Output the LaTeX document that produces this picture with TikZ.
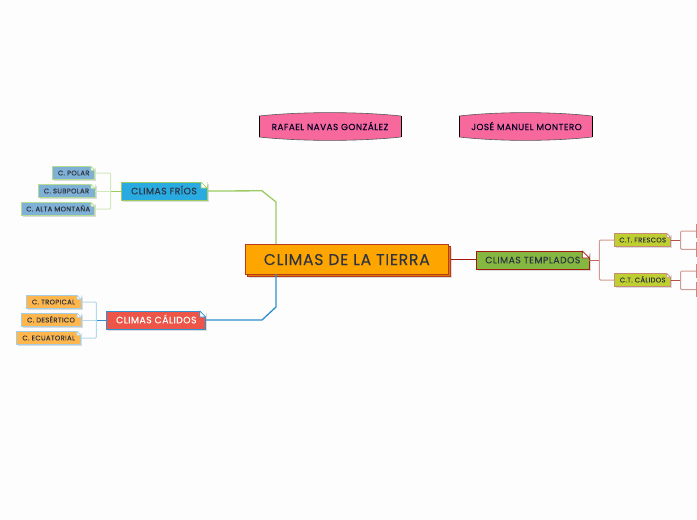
\documentclass[tikz,border=0pt]{standalone}
\usepackage{fontspec}
\setmainfont{Poppins}[LetterSpace=5,FakeBold=0.05]
\definecolor{bg}{HTML}{FDFDFD}
\definecolor{pk}{HTML}{F7699C}
\definecolor{cgreen}{HTML}{9CCB62}
\definecolor{lgreen}{HTML}{D2E9BC}
\definecolor{cblue}{HTML}{2F8FD0}
\definecolor{lblue}{HTML}{B4D9EF}
\definecolor{cred}{HTML}{A01A10}
\definecolor{mred}{HTML}{B55048}
\definecolor{lred}{HTML}{D49A92}
\definecolor{ored}{HTML}{B83A1B}
\definecolor{txt}{HTML}{2E3440}
\definecolor{fsky}{HTML}{29ABE2}
\definecolor{fcoral}{HTML}{EC5548}
\definecolor{fgrass}{HTML}{84B840}
\definecolor{forange}{HTML}{FFA500}
\definecolor{flime}{HTML}{BFCF2F}
\definecolor{fsteel}{HTML}{7FB0D5}
\definecolor{fpeach}{HTML}{FFB74D}
\definecolor{bchild}{HTML}{B5DC90}
\definecolor{bpeach}{HTML}{A5CCE5}
\definecolor{bct}{HTML}{C58A78}
\tikzset{x=1pt,y=-1pt,
 boxbase/.style={rectangle,inner sep=0pt,outer sep=0pt,text=txt},
 shadowed/.style={preaction={draw=none,fill=black,fill opacity=.13,transform canvas={shift={(1.5pt,-1.5pt)}}}},
 level0/.style={boxbase,shadowed,fill=forange,draw=ored,line width=1pt,minimum width=203pt,minimum height=30pt,font=\fontsize{15.6}{16}\selectfont,text height=12pt,text depth=0pt},
 level0back/.style={boxbase,shadowed,fill=forange!85!red,draw=ored,line width=1pt,minimum width=203pt,minimum height=30pt},
 level1/.style={boxbase,shadowed,line width=1pt,minimum height=18pt,font=\fontsize{9.3}{10}\selectfont,text height=6.6pt,text depth=0pt},
 level2/.style={boxbase,shadowed,line width=1pt,minimum height=13.5pt,font=\fontsize{6.8}{7}\selectfont,text height=4.8pt,text depth=0pt},
 frio/.style={level2,fill=fsteel,draw=bchild},
 calido/.style={level2,fill=fpeach,draw=bpeach},
 ct/.style={level2,fill=flime,draw=bct},
 leaf/.style={level2,fill=fpeach,draw=bct,minimum width=60pt},
 pinktext/.style={boxbase,font=\fontsize{8.9}{9}\selectfont,text=black!85!blue,text height=6.2pt,text depth=0pt},
 trunk/.style={line width=1.3pt,line join=round},
 twig/.style={line width=1pt,rounded corners=1pt},
}
% \foldcorner{node}{size}{border colour}
\newcommand{\foldcorner}[3]{%
 \fill[bg] ([xshift=-#2pt]#1.north east) -- ([xshift=.8pt,yshift=.8pt]#1.north east) -- ([yshift=-#2pt]#1.north east) -- cycle;
 \draw[fill=white,draw=#3,line width=.7pt,line join=round] ([xshift=-#2pt]#1.north east) -- ([yshift=-#2pt]#1.north east) -- ([xshift=-#2pt,yshift=-#2pt]#1.north east) -- cycle;
}
% \pinkshape{x0}{x1}{node name}{centre x}{text}
\newcommand{\pinkshape}[5]{%
 \path[fill=pk] (#1,116) .. controls ({#1+.3*(#2-#1)},111.5) and ({#1+.7*(#2-#1)},111.5) .. (#2,116) -- (#2,137) .. controls ({#1+.7*(#2-#1)},141.5) and ({#1+.3*(#2-#1)},141.5) .. (#1,137) -- cycle;
 \draw[black,line width=.7pt] (#1,116) -- (#1,137) (#2,116) -- (#2,137);
 \draw[black!65,line width=.6pt] (#1,116) .. controls ({#1+.3*(#2-#1)},111.5) and ({#1+.7*(#2-#1)},111.5) .. (#2,116);
 \draw[black!65,line width=.6pt] (#1,137) .. controls ({#1+.3*(#2-#1)},141.5) and ({#1+.7*(#2-#1)},141.5) .. (#2,137);
 \node[pinktext] (#3) at (#4,127) {#5};
}
\begin{document}
\begin{tikzpicture}
\useasboundingbox (0,0) rectangle (697,520);
\fill[bg] (0,0) rectangle (697,520);
\clip (0,0) rectangle (697,520);

\pinkshape{259}{401}{rafael}{330}{RAFAEL NAVAS GONZÁLEZ}
\pinkshape{459}{592}{jose}{526.5}{JOSÉ MANUEL MONTERO}

% boxes
\node[level0back] (mainback) at (349.3,261.5) {};
\node[level0] (main) at (346.8,259) {CLIMAS DE LA TIERRA};

\node[level1,fill=fsky,draw=cgreen,minimum width=86pt] (frios) at (164,191) {CLIMAS FRÍOS};
\node[level1,fill=fcoral,draw=cblue,minimum width=99pt,text=white] (calidos) at (156.3,320) {CLIMAS CÁLIDOS};
\node[level1,fill=fgrass,draw=cred,minimum width=113pt] (templados) at (532.8,260) {CLIMAS TEMPLADOS};

\node[frio,minimum width=42.5pt] (polar) at (73.7,173) {C. POLAR};
\node[frio,minimum width=57pt] (subpolar) at (66.5,191) {C. SUBPOLAR};
\node[frio,minimum width=73.5pt] (alta) at (58.2,209) {C. ALTA MONTAÑA};

\node[calido,minimum width=55pt] (tropical) at (53.5,302) {C. TROPICAL};
\node[calido,minimum width=60pt] (desertico) at (51,320) {C. DESÉRTICO};
\node[calido,minimum width=64.5pt] (ecuatorial) at (48.7,338) {C. ECUATORIAL};

\node[ct,minimum width=56pt] (frescos) at (642.7,240) {C.T. FRESCOS};
\node[ct,minimum width=56pt] (ctcalidos) at (642.7,280) {C.T. CÁLIDOS};

\node[leaf] (leafa) at (726,231) {};
\node[leaf] (leafb) at (726,249.3) {};
\node[leaf] (leafc) at (726,271) {};
\node[leaf] (leafd) at (726,289.5) {};

% fold corners
\foldcorner{frios}{6}{cgreen}
\foldcorner{calidos}{6}{cblue}
\foldcorner{templados}{7}{cred}
\foldcorner{polar}{4}{bchild}
\foldcorner{subpolar}{4}{bchild}
\foldcorner{alta}{4}{bchild}
\foldcorner{tropical}{4}{bpeach}
\foldcorner{desertico}{4}{bpeach}
\foldcorner{ecuatorial}{4}{bpeach}
\foldcorner{frescos}{4}{bct}
\foldcorner{ctcalidos}{4}{bct}

% trunks from the central box
\draw[cgreen,trunk] (main.north -| 276,0) -- (276,202) -- (262,190.8) -- (frios.east);
\draw[cblue,trunk] (main.south -| 276,0) -- (276,307) -- (262,320) -- (calidos.east);
\draw[cred,trunk] (mainback.east |- 0,259.6) -- (templados.west |- 0,259.6);

% Frios children
\draw[cgreen,twig] (frios.west) -- (110.7,191);
\draw[lgreen,twig] (110.7,191) -- (subpolar.east);
\draw[lgreen,twig] (polar.east) -| (110.7,191) |- (alta.east);
% Calidos children
\draw[cblue,twig] (calidos.west) -- (96.3,320);
\draw[lblue,twig] (96.3,320) -- (desertico.east);
\draw[lblue,twig] (tropical.east) -| (96.3,320) |- (ecuatorial.east);
% Templados children
\draw[mred!70!lred,twig] (templados.east) -- (599.3,260);
\draw[lred,twig] (frescos.west) -| (599.3,260) |- (ctcalidos.west);
% C.T. children
\draw[mred,twig] (frescos.east) -- (680.7,240);
\draw[lred,twig] (leafa.west) -| (680.7,240) |- (leafb.west);
\draw[mred,twig] (ctcalidos.east) -- (680.7,280);
\draw[lred,twig] (leafc.west) -| (680.7,280) |- (leafd.west);
\end{tikzpicture}
\end{document}
